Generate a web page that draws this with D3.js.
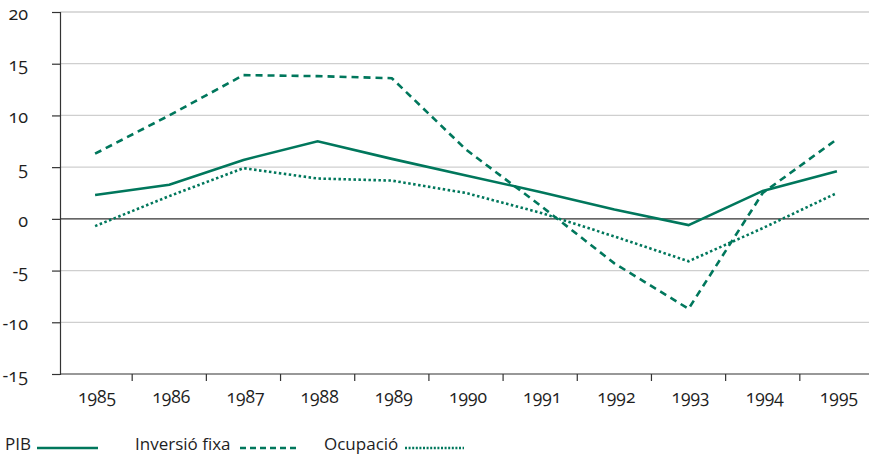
<!DOCTYPE html>
<html>
<head>
<meta charset="utf-8">
<script src="https://cdn.jsdelivr.net/npm/d3@7"></script>
<style>
  body { margin: 0; background: #fff; }
  svg text { font-family: "Open Sans", Lato, sans-serif; font-variant-numeric: oldstyle-nums; fill: #1e1e1e; }
</style>
</head>
<body>
<svg id="chart" width="869" height="457"></svg>
<script>
// Annual rates of change (%)
const years = ["1985","1986","1987","1988","1989","1990","1991","1992","1993","1994","1995"];
const pib = [2.3, 3.3, 5.7, 7.5, 5.8, 4.2, 2.6, 0.9, -0.6, 2.7, 4.6];
const inversio = [6.3, 10.0, 13.9, 13.8, 13.6, 6.7, 1.3, -4.3, -8.7, 2.5, 7.7];
const ocupacio = [-0.7, 2.2, 4.9, 3.9, 3.7, 2.5, 0.6, -1.7, -4.1, -0.9, 2.5];
const yTicks = [-15, -10, -5, 0, 5, 10, 15, 20];

const series = [
  { name: "PIB", values: pib, dash: null, legendDash: null },
  { name: "Inversió fixa", values: inversio, dash: "7,5", legendDash: "6,4" },
  { name: "Ocupació", values: ocupacio, dash: "2.5,2.5", legendDash: "2,1.6" }
];

const color = "#00775c";
const svg = d3.select("#chart");
const left = 60, right = 869;

const x = d3.scaleBand().domain(years).range([58, 874]);
const y = d3.scaleLinear().domain([-15, 20]).range([374, 12]);

// horizontal gridlines
svg.append("g").selectAll("line").data(yTicks.filter(d => d !== -15 && d !== 0)).join("line")
  .attr("x1", left).attr("x2", right)
  .attr("y1", d => y(d)).attr("y2", d => y(d))
  .attr("stroke", "#cfcfcf").attr("stroke-width", 1.3);

// y axis (plain hyphen for negatives)
const yAxis = svg.append("g").attr("transform", `translate(${left},0)`)
  .call(d3.axisLeft(y).tickValues(yTicks).tickSize(8).tickPadding(24).tickFormat(d => String(d)));
yAxis.select(".domain").attr("stroke", "#333").attr("stroke-width", 1.2);
yAxis.selectAll(".tick line").attr("stroke", "#333").attr("stroke-width", 1.2);
yAxis.selectAll("text").attr("font-size", 18).attr("dy", "0.4em").attr("fill", "#1e1e1e");

// zero line
svg.append("line").attr("x1", left).attr("x2", right)
  .attr("y1", y(0)).attr("y2", y(0)).attr("stroke", "#333").attr("stroke-width", 1.2);

// x axis at the bottom, ticks between categories
const xg = svg.append("g").attr("transform", `translate(0,${y(-15)})`);
xg.append("line").attr("x1", left).attr("x2", right).attr("stroke", "#333").attr("stroke-width", 1.2);
xg.selectAll("line.t").data(years.slice(1)).join("line").attr("class", "t")
  .attr("x1", d => x(d)).attr("x2", d => x(d)).attr("y1", 0).attr("y2", 7)
  .attr("stroke", "#333").attr("stroke-width", 1.2);
xg.selectAll("text").data(years).join("text")
  .attr("x", d => x(d) + x.bandwidth() / 2 + 2).attr("y", 29)
  .attr("text-anchor", "middle").attr("font-size", 17.5).text(d => d);

// series lines
const line = d3.line().x((d, i) => x(years[i]) + x.bandwidth() / 2).y(d => y(d));
series.forEach(s => {
  svg.append("path").datum(s.values)
    .attr("d", line).attr("fill", "none")
    .attr("stroke", color).attr("stroke-width", 2.6)
    .attr("stroke-dasharray", s.dash);
});

// legend
const legend = [
  { s: series[0], tx: 5, x1: 37, x2: 98 },
  { s: series[1], tx: 135, x1: 240, x2: 298 },
  { s: series[2], tx: 324, x1: 405, x2: 464 }
];
legend.forEach(l => {
  svg.append("text").attr("x", l.tx).attr("y", 450).attr("font-size", 17).text(l.s.name);
  svg.append("line").attr("x1", l.x1).attr("x2", l.x2).attr("y1", 448).attr("y2", 448)
    .attr("stroke", color).attr("stroke-width", 2.6).attr("stroke-dasharray", l.s.legendDash);
});
</script>
</body>
</html>
